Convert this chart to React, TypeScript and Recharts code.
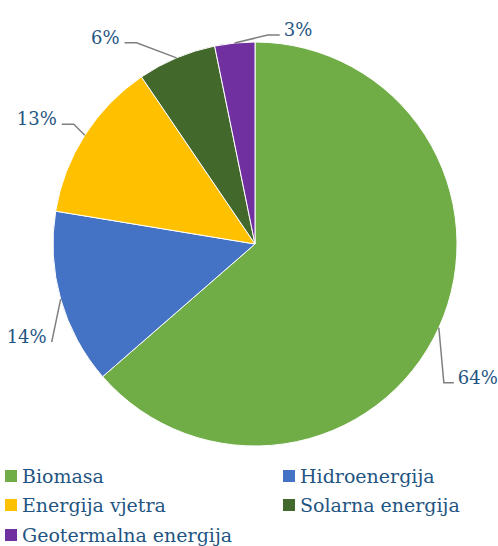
import { Legend, Pie, PieChart } from "recharts";

const sources = ["Biomasa", "Hidroenergija", "Energija vjetra", "Solarna energija", "Geotermalna energija"];
const shares = [63.6, 14.0, 12.9, 6.3, 3.2];
const colors = ["#70ad47", "#4472c4", "#ffc000", "#43682b", "#7030a0"];

// elbow offset from the slice edge + length of the horizontal tail (Excel "best fit" look)
const labelLayout = [
    { dx: 5, dy: 55, tail: 10 },
    { dx: -9, dy: 43, tail: 0 },
    { dx: -11, dy: -11, tail: -12 },
    { dx: -40, dy: -15, tail: -12 },
    { dx: 33, dy: -8, tail: 12 },
];

const data = sources.map((name, i) => ({ name, value: shares[i], fill: colors[i] }));

const FONT = "'DejaVu Serif', serif";
const TEXT_COLOR = "#1f5582";
const RAD = Math.PI / 180;

function renderLabel(props: any) {
    const { cx, cy, midAngle, outerRadius, index, percent } = props;
    const lay = labelLayout[index];
    const px = cx + outerRadius * Math.cos(-midAngle * RAD);
    const py = cy + outerRadius * Math.sin(-midAngle * RAD);
    const ex = px + lay.dx;
    const ey = py + lay.dy;
    const hx = ex + lay.tail;
    const right = lay.tail > 0 || (lay.tail === 0 && lay.dx > 0);
    return (
        <g>
            <polyline points={`${px},${py} ${ex},${ey} ${hx},${ey}`} fill="none" stroke="#7f7f7f" strokeWidth={1.5} />
            <text
                x={right ? hx + 4 : hx - 5}
                y={ey + 1}
                textAnchor={right ? "start" : "end"}
                fill={TEXT_COLOR}
                fontFamily={FONT}
                fontSize={18}
            >
                {`${Math.round(percent * 100)}%`}
            </text>
        </g>
    );
}

function LegendContent() {
    return (
        <div style={{ display: "grid", gridTemplateColumns: "278px 215px", rowGap: 0, fontFamily: FONT, fontSize: 19, color: TEXT_COLOR }}>
            {data.map((d) => (
                <div key={d.name} style={{ display: "flex", alignItems: "center", height: 29.5, whiteSpace: "nowrap" }}>
                    <span style={{ width: 12, height: 12, background: d.fill, marginRight: 5, display: "inline-block" }} />
                    <span>{d.name}</span>
                </div>
            ))}
        </div>
    );
}

export default function App() {
    return (
        <div style={{ position: "absolute", left: 0, top: 0, width: 498, height: 546, background: "#fff" }}>
            <PieChart width={498} height={546} margin={{ top: 0, right: 0, bottom: 0, left: 0 }}>
                <Pie
                    data={data}
                    dataKey="value"
                    nameKey="name"
                    cx={255}
                    cy={244}
                    outerRadius={202}
                    startAngle={90}
                    endAngle={-270}
                    stroke="#ffffff"
                    strokeWidth={1}
                    label={renderLabel}
                    labelLine={false}
                    isAnimationActive={false}
                />
                <Legend
                    content={<LegendContent />}
                    wrapperStyle={{ position: "absolute", left: 5, top: 461, width: 493 }}
                />
            </PieChart>
        </div>
    );
}
